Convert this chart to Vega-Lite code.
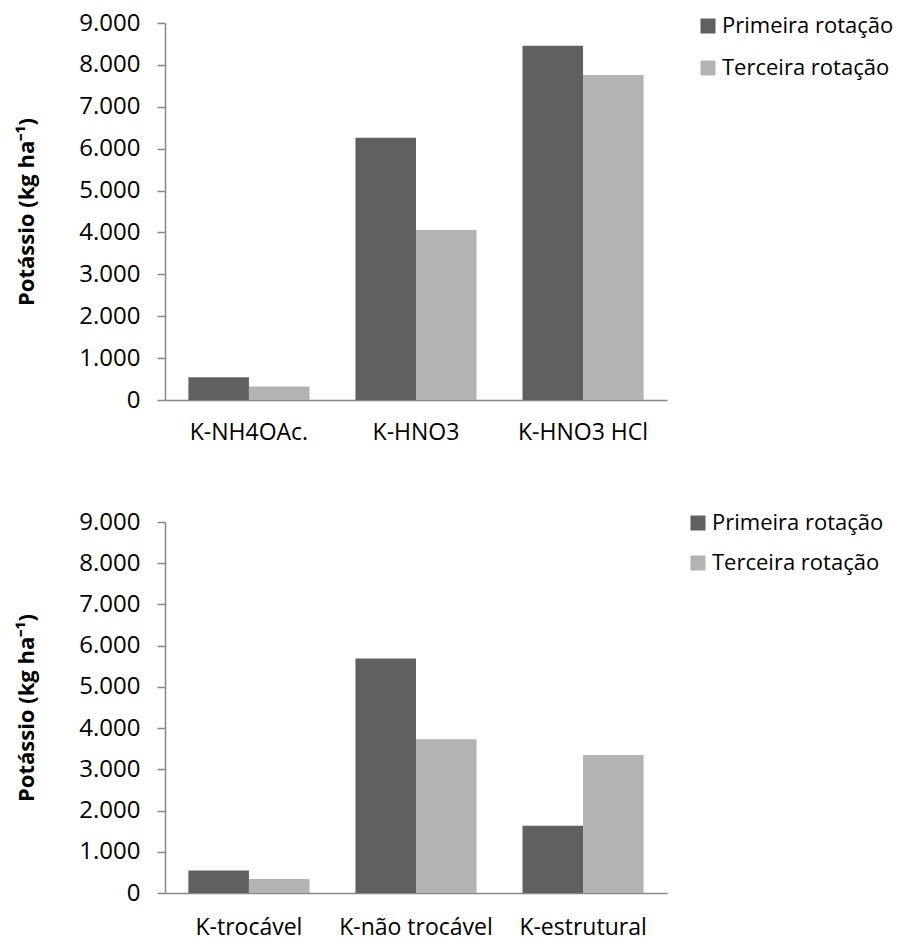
{
  "$schema": "https://vega.github.io/schema/vega-lite/v6.json",
  "background": "white",
  "padding": {"left": 15, "top": 11, "right": 5, "bottom": 5},
  "config": {
    "font": "Open Sans",
    "locale": {"number": {"decimal": ",", "thousands": ".", "grouping": [3], "currency": ["R$", ""]}},
    "view": {"stroke": null},
    "axis": {"labelFont": "Open Sans", "titleFont": "Open Sans", "labelColor": "#000000", "titleColor": "#000000", "domainColor": "#868686", "tickColor": "#868686", "domainWidth": 1.5, "tickWidth": 1.5, "grid": false},
    "legend": {"labelFont": "Open Sans", "labelColor": "#000000"}
  },
  "datasets": {
    "top": [
      {"fracao": "K-NH4OAc.", "serie": "Primeira rotação", "valor": 545},
      {"fracao": "K-NH4OAc.", "serie": "Terceira rotação", "valor": 320},
      {"fracao": "K-HNO3", "serie": "Primeira rotação", "valor": 6260},
      {"fracao": "K-HNO3", "serie": "Terceira rotação", "valor": 4057},
      {"fracao": "K-HNO3 HCl", "serie": "Primeira rotação", "valor": 8455},
      {"fracao": "K-HNO3 HCl", "serie": "Terceira rotação", "valor": 7757}
    ],
    "bottom": [
      {"fracao": "K-trocável", "serie": "Primeira rotação", "valor": 547},
      {"fracao": "K-trocável", "serie": "Terceira rotação", "valor": 339},
      {"fracao": "K-não trocável", "serie": "Primeira rotação", "valor": 5690},
      {"fracao": "K-não trocável", "serie": "Terceira rotação", "valor": 3729},
      {"fracao": "K-estrutural", "serie": "Primeira rotação", "valor": 1630},
      {"fracao": "K-estrutural", "serie": "Terceira rotação", "valor": 3349}
    ]
  },
  "bounds": "flush",
  "spacing": 122,
  "resolve": {"legend": {"color": "independent"}},
  "vconcat": [
    {
      "width": 502,
      "height": 377,
      "data": {"name": "top"},
      "mark": {"type": "bar"},
      "encoding": {
        "x": {"field": "fracao", "type": "nominal", "sort": ["K-NH4OAc.", "K-HNO3", "K-HNO3 HCl"],
          "scale": {"paddingInner": 0.275, "paddingOuter": 0.14},
          "axis": {"title": null, "labelAngle": 0, "labelFontSize": 23, "labelPadding": 21, "ticks": false}},
        "xOffset": {"field": "serie", "type": "nominal", "sort": ["Primeira rotação", "Terceira rotação"]},
        "y": {"field": "valor", "type": "quantitative", "scale": {"domain": [0, 9000], "nice": false},
          "axis": {"title": "Potássio (kg ha⁻¹)", "titleFontSize": 22, "titleFontWeight": "bold", "titlePadding": 40, "values": [0,1000,2000,3000,4000,5000,6000,7000,8000,9000], "format": ",d", "labelFontSize": 24, "tickSize": 8, "labelPadding": 17}},
        "color": {"field": "serie", "type": "nominal",
          "scale": {"domain": ["Primeira rotação", "Terceira rotação"], "range": ["#606060", "#b3b3b3"]},
          "legend": {"title": null, "orient": "none", "legendX": 532, "legendY": -8, "symbolType": "square", "symbolSize": 225, "symbolStrokeWidth": 0, "labelFontSize": 22, "labelOffset": 3, "labelLimit": 400, "rowPadding": 20}}
      }
    },
    {
      "width": 502,
      "height": 371,
      "data": {"name": "bottom"},
      "mark": {"type": "bar"},
      "encoding": {
        "x": {"field": "fracao", "type": "nominal", "sort": ["K-trocável", "K-não trocável", "K-estrutural"],
          "scale": {"paddingInner": 0.275, "paddingOuter": 0.14},
          "axis": {"title": null, "labelAngle": 0, "labelFontSize": 23, "labelPadding": 23, "ticks": false}},
        "xOffset": {"field": "serie", "type": "nominal", "sort": ["Primeira rotação", "Terceira rotação"]},
        "y": {"field": "valor", "type": "quantitative", "scale": {"domain": [0, 9000], "nice": false},
          "axis": {"title": "Potássio (kg ha⁻¹)", "titleFontSize": 22, "titleFontWeight": "bold", "titlePadding": 40, "values": [0,1000,2000,3000,4000,5000,6000,7000,8000,9000], "format": ",d", "labelFontSize": 24, "tickSize": 8, "labelPadding": 17}},
        "color": {"field": "serie", "type": "nominal",
          "scale": {"domain": ["Primeira rotação", "Terceira rotação"], "range": ["#606060", "#b3b3b3"]},
          "legend": {"title": null, "orient": "none", "legendX": 522, "legendY": -10, "symbolType": "square", "symbolSize": 225, "symbolStrokeWidth": 0, "labelFontSize": 22, "labelOffset": 3, "labelLimit": 400, "rowPadding": 18}}
      }
    }
  ]
}
